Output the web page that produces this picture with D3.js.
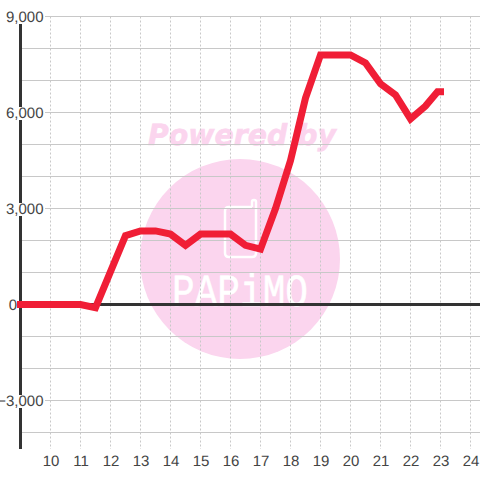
<!DOCTYPE html>
<html><head><meta charset="utf-8">
<script src="https://cdn.jsdelivr.net/npm/d3@7/dist/d3.min.js"></script>
<style>html,body{margin:0;padding:0;background:#fff}svg{display:block}text{text-rendering:geometricPrecision}</style>
</head><body>
<svg id="c" width="480" height="480"></svg>
<script>
const hours = [9,9.5,10,10.5,11,11.5,12.5,13,13.5,14,14.5,15,15.5,16,16.5,17,17.5,18,18.5,19,19.5,20,20.5,21,21.5,22,22.5,22.9,23];
const values = [0,0,0,0,0,-100,2150,2300,2300,2200,1850,2200,2200,2200,1850,1730,3000,4500,6450,7800,7800,7800,7550,6900,6550,5800,6200,6650,6650];
const xTicks = [10,11,12,13,14,15,16,17,18,19,20,21,22,23,24];
const yGrid = [9000,8000,7000,6000,5000,4000,3000,2000,1000,-1000,-2000,-3000,-4000];
const yLabels = [9000,6000,3000,0,-3000];

const svg = d3.select('#c');
const x = d3.scaleLinear().domain([9,24]).range([20.5,470.5]);
const y = d3.scaleLinear().domain([9000,0]).range([16.5,304.5]);
const fmt = d3.format(',');
const font = '"Liberation Sans", Arial, sans-serif';

// watermark
const wm = svg.append('g');
wm.append('circle').attr('cx',240).attr('cy',259).attr('r',100).attr('fill','#fbd5ee');
wm.append('text').attr('x',148).attr('y',145).attr('textLength',188).attr('lengthAdjust','spacingAndGlyphs')
  .attr('font-family','"DejaVu Sans"').attr('font-weight','bold').attr('font-style','italic')
  .attr('font-size',29).attr('fill','#fbd5ee').attr('stroke','#fbd5ee').attr('stroke-width',0.6).text('Powered by');
wm.append('path').attr('d','M252 207 H229 Q225 207 225 211 V253 Q225 257 229 257 H252 Q256 257 256 253 V202 Q256 200 254 200 Q252 200 252 202 V207')
  .attr('fill','none').attr('stroke','#fff').attr('stroke-width',2.5);
wm.append('text').attr('x',172).attr('y',306).attr('textLength',136).attr('lengthAdjust','spacingAndGlyphs')
  .attr('font-family','"Liberation Mono"').attr('font-size',46).attr('fill','#fff').attr('stroke','#fff').attr('stroke-width',0.5).text('PAPiMO');

// grid
svg.append('g').selectAll('line').data(yGrid).join('line')
  .attr('x1',x(9)).attr('x2',480).attr('y1',d=>y(d)).attr('y2',d=>y(d))
  .attr('stroke','#c8c8c8').attr('stroke-width',1);
svg.append('g').selectAll('line').data(xTicks).join('line')
  .attr('x1',d=>x(d)).attr('x2',d=>x(d)).attr('y1',y(9000)).attr('y2',449)
  .attr('stroke','#c8c8c8').attr('stroke-width',1).attr('stroke-dasharray','2,2');

// axes
svg.append('line').attr('x1',x(9)).attr('x2',x(9)).attr('y1',16).attr('y2',449)
  .attr('stroke','#333').attr('stroke-width',3);
svg.append('line').attr('x1',x(9)).attr('x2',480).attr('y1',y(0)).attr('y2',y(0))
  .attr('stroke','#333').attr('stroke-width',3);

// y label backgrounds + labels
const yl = svg.append('g');
yl.selectAll('rect').data(yLabels.filter(d=>d!==0)).join('rect')
  .attr('x',0).attr('width',45).attr('height',d=>d===9000?24:13)
  .attr('y',d=>d===9000?0:y(d)-5.5).attr('fill','#fff');
yl.selectAll('text').data(yLabels).join('text')
  .attr('x',d=>d===0?17:43.5).attr('y',d=>y(d)+5.5).attr('text-anchor','end')
  .attr('font-family',font).attr('font-size',15).attr('fill','#444').text(d=>fmt(d));

// x labels
svg.append('g').selectAll('text').data(xTicks).join('text')
  .attr('x',d=>x(d)+0.5).attr('y',466).attr('text-anchor','middle')
  .attr('font-family',font).attr('font-size',15).attr('fill','#444').text(d=>d);

// series
const line = d3.line().x((d,i)=>x(hours[i])).y(d=>y(d));
svg.append('path').datum(values).attr('d',line).attr('fill','none')
  .attr('stroke','#f01e36').attr('stroke-width',7).attr('stroke-linecap','square').attr('stroke-linejoin','miter');
</script>
</body></html>
